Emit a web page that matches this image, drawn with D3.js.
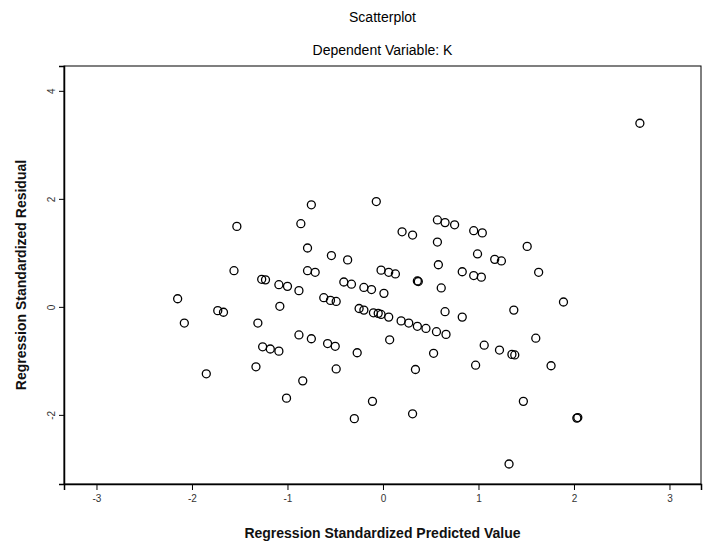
<!DOCTYPE html>
<meta charset="utf-8">
<style>
body { margin: 0; background: #fff; }
.title { font-family: "Liberation Sans", Arial, sans-serif; font-size: 14px; fill: #000; }
.axis-title { font-family: "Liberation Sans", Arial, sans-serif; font-size: 14px; font-weight: bold; fill: #111; }
.tick text { font-family: "Liberation Sans", Arial, sans-serif; font-size: 10px; fill: #333; }
.dot { fill: none; stroke: #000; stroke-width: 1.3px; }
</style>
<body>
<script src="https://d3js.org/d3.v7.min.js"></script>
<script>

// predicted value (x) and residual (y)
var predicted = [-1.53, -1.56, -1.27, -1.23, -1.09, -2.15, -1.73, -1.67, -2.08, -1.31,
  -1.08, -1.26, -1.18, -1.09, -1.33, -1.85, -0.75, -0.07, -0.86, 0.57,
  0.65, 0.75, 0.20, 0.31, 0.95, 1.04, -0.79, 0.57, 0.99, -0.54,
  -0.37, -0.79, -0.71, 0.58, -0.02, 0.06, 0.13, 0.83, 0.95, 1.03,
  2.69, 1.51, 1.17, 1.24, 1.63, -1.00, -0.88, -0.41, -0.33, -0.20,
  -0.12, 0.01, 0.36, 0.37, 0.61, -0.62, -0.55, -0.49, -0.25, -0.20,
  -0.10, -0.05, -0.02, 0.06, 0.19, 0.27, 0.36, 0.45, 0.56, 0.66,
  0.65, 0.83, -0.88, -0.75, -0.58, -0.50, -0.27, 0.07, 1.06, 0.53,
  -0.49, 0.34, 0.97, -0.84, -1.01, -0.11, 0.31, -0.30, 1.89, 1.37,
  1.22, 1.35, 1.38, 1.60, 1.76, 1.47, 2.03, 2.04, 1.32];
var residual = [1.49, 0.67, 0.51, 0.50, 0.41, 0.15, -0.07, -0.10, -0.30, -0.30,
  0.01, -0.74, -0.78, -0.82, -1.11, -1.24, 1.89, 1.95, 1.54, 1.61,
  1.56, 1.52, 1.39, 1.33, 1.41, 1.37, 1.09, 1.20, 0.98, 0.95,
  0.87, 0.67, 0.64, 0.78, 0.68, 0.64, 0.61, 0.65, 0.58, 0.55,
  3.40, 1.12, 0.88, 0.85, 0.64, 0.38, 0.30, 0.46, 0.42, 0.36,
  0.32, 0.25, 0.48, 0.47, 0.35, 0.17, 0.12, 0.10, -0.03, -0.06,
  -0.11, -0.12, -0.14, -0.19, -0.26, -0.30, -0.36, -0.40, -0.46, -0.51,
  -0.09, -0.19, -0.52, -0.59, -0.68, -0.73, -0.85, -0.61, -0.71, -0.86,
  -1.15, -1.16, -1.08, -1.37, -1.69, -1.75, -1.98, -2.07, 0.09, -0.06,
  -0.80, -0.88, -0.89, -0.58, -1.09, -1.75, -2.06, -2.05, -2.91];

var xTicks = [-3, -2, -1, 0, 1, 2, 3];
var yTicks = [-2, 0, 2, 4];

var chartTitle = "Scatterplot";
var subTitle = "Dependent Variable: K";
var xLabel = "Regression Standardized Predicted Value";
var yLabel = "Regression Standardized Residual";

// plot box in page pixels
var box = {left: 64, right: 701, top: 66, bottom: 484};

var svg = d3.select("body").append("svg")
    .attr("width", 705)
    .attr("height", 551);

var x = d3.scaleLinear().domain([-3.34, 3.33]).range([box.left, box.right]);
var y = d3.scaleLinear().domain([-3.28, 4.46]).range([box.bottom, box.top]);

var fmt = function(d) { return d < 0 ? "-" + Math.abs(d) : String(d); };

// frame
svg.append("rect")
    .attr("x", box.left)
    .attr("y", box.top)
    .attr("width", box.right - box.left)
    .attr("height", box.bottom - box.top)
    .attr("fill", "none")
    .attr("stroke", "#000")
    .attr("stroke-width", 1);

// x axis
var gx = svg.append("g")
    .attr("transform", "translate(0," + box.bottom + ")")
    .call(d3.axisBottom(x).tickValues(xTicks).tickFormat(fmt).tickSize(6).tickPadding(5));
gx.select(".domain").attr("stroke-width", 1.5);

// y axis, labels turned on their side
var gy = svg.append("g")
    .attr("transform", "translate(" + box.left + ",0)")
    .call(d3.axisLeft(y).tickValues(yTicks).tickFormat(fmt).tickSize(5));
gy.select(".domain").attr("stroke-width", 1.5);
gy.selectAll(".tick text")
    .attr("x", 0).attr("dy", 0)
    .attr("transform", "translate(-13,0) rotate(-90)")
    .attr("text-anchor", "middle")
    .attr("dominant-baseline", "central");

// points
svg.append("g")
  .selectAll("circle")
  .data(predicted)
  .enter().append("circle")
    .attr("class", "dot")
    .attr("cx", function(d) { return x(d); })
    .attr("cy", function(d, i) { return y(residual[i]); })
    .attr("r", 4);

// titles
var cx = (box.left + box.right) / 2;
svg.append("text").attr("class", "title")
    .attr("x", cx).attr("y", 22).attr("text-anchor", "middle")
    .text(chartTitle);
svg.append("text").attr("class", "title")
    .attr("x", cx).attr("y", 55).attr("text-anchor", "middle")
    .text(subTitle);
svg.append("text").attr("class", "axis-title")
    .attr("x", cx).attr("y", 538).attr("text-anchor", "middle")
    .text(xLabel);
svg.append("text").attr("class", "axis-title")
    .attr("transform", "translate(26," + ((box.top + box.bottom) / 2) + ") rotate(-90)")
    .attr("text-anchor", "middle")
    .text(yLabel);

</script>
</body>
